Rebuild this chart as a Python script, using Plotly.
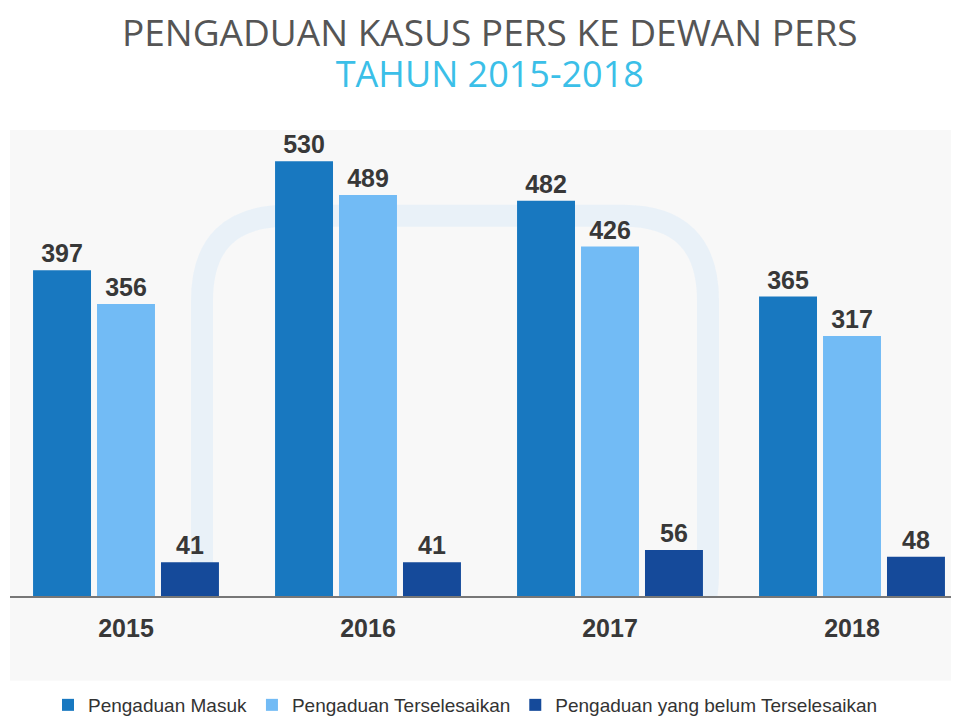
import plotly.graph_objects as go

years = ["2015", "2016", "2017", "2018"]
masuk = [397, 530, 482, 365]
selesai = [356, 489, 426, 317]
belum = [41, 41, 56, 48]
series_names = ["Pengaduan Masuk", "Pengaduan Terselesaikan", "Pengaduan yang belum Terselesaikan"]
colors = ["#1878c0", "#72bbf5", "#154a9a"]

OFF = 8  # page body offset
W, H = 959, 716
L = 10 - OFF
T = 130 - OFF
B = H - (597 - OFF)
R = 0
ph = H - T - B
pw = W - L - R
cat_px = 242.0
x0 = -((126 - OFF) - L) / cat_px
x1 = x0 + pw / cat_px
y_max = ph / 0.822

FONT = "Liberation Sans, Arial, Helvetica"

fig = go.Figure()
for name, vals, c in zip(series_names, [masuk, selesai, belum], colors):
    fig.add_trace(go.Bar(
        x=years, y=vals, name=name, marker=dict(color=c, line=dict(width=0)),
        text=["<b>%d</b>" % v for v in vals], textposition="outside", cliponaxis=False,
        textfont=dict(family=FONT, size=25, color="#383838"),
    ))

def py(p):
    return (H - B - (p - OFF)) / ph

def px(p):
    return ((p - OFF) - L) / pw

# faint watermark (decorative rounded square)
wx0, wx1, wy0, wy1, rr = 202, 708, 216, 660, 85
def pt(x, y):
    return "%.5f,%.5f" % (px(x), py(y))
wpath = ("M" + pt(wx0 + rr, wy0) + " L" + pt(wx1 - rr, wy0) + " Q" + pt(wx1, wy0) + " " + pt(wx1, wy0 + rr)
         + " L" + pt(wx1, wy1 - rr) + " Q" + pt(wx1, wy1) + " " + pt(wx1 - rr, wy1)
         + " L" + pt(wx0 + rr, wy1) + " Q" + pt(wx0, wy1) + " " + pt(wx0, wy1 - rr)
         + " L" + pt(wx0, wy0 + rr) + " Q" + pt(wx0, wy0) + " " + pt(wx0 + rr, wy0) + " Z")

title_html = ('<span style="font-size:37px;color:#555555">PENGADUAN KASUS PERS KE DEWAN PERS</span><br>'
              '<span style="font-size:36px;color:#3bbfe8">TAHUN 2015-2018</span>')

fig.update_layout(
    width=W, height=H,
    margin=dict(l=L, r=R, t=T, b=B),
    paper_bgcolor="white", plot_bgcolor="#f8f8f8",
    barmode="group", bargap=0.207, bargroupgap=0.094,
    showlegend=True,
    legend=dict(orientation="h", x=px(48), xanchor="left", y=py(706), yanchor="middle",
                font=dict(family=FONT, size=19, color="#333333"),
                bgcolor="rgba(0,0,0,0)", itemwidth=30, traceorder="normal"),
    xaxis=dict(range=[x0, x1], showgrid=False, showline=True, linecolor="#777777", linewidth=1.5,
               ticks="outside", ticklen=9, tickcolor="rgba(0,0,0,0)",
               tickfont=dict(family=FONT, size=25, color="#383838"),
               tickvals=years, ticktext=["<b>%s</b>" % y for y in years]),
    yaxis=dict(range=[0, y_max], visible=False, showgrid=False, zeroline=False),
    shapes=[
        dict(type="path", xref="paper", yref="paper", path=wpath,
             line=dict(color="rgba(205,228,250,0.35)", width=22), layer="below"),
        dict(type="rect", xref="paper", yref="paper", x0=0, x1=1, y0=py(682), y1=-0.003,
             fillcolor="#f8f8f8", line=dict(width=0), layer="below"),
    ],
    annotations=[
        dict(text=title_html, xref="paper", yref="paper",
             x=px(490), y=py(52), xanchor="center", yanchor="middle", showarrow=False,
             font=dict(family="Open Sans", size=31.5, color="#555555")),
    ],
)

fig.write_html("out.html")
